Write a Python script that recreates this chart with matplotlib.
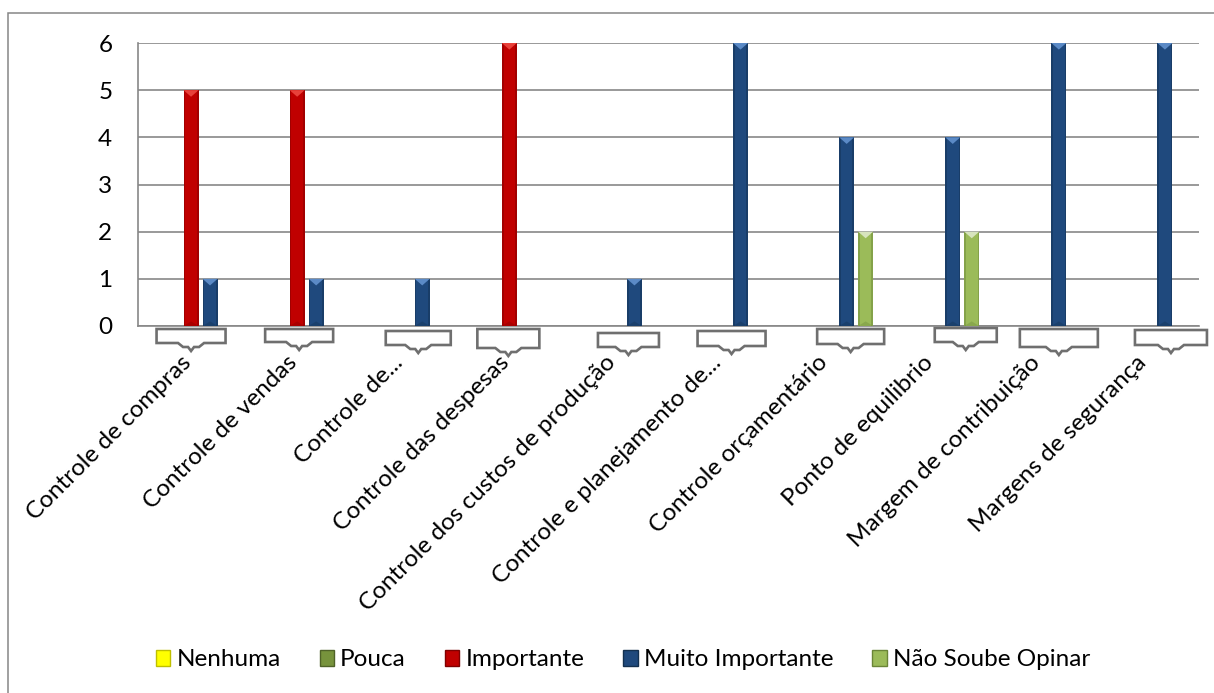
import numpy as np
import matplotlib
matplotlib.use("Agg")
import matplotlib.pyplot as plt
import matplotlib.patches as mpatches
import matplotlib.transforms as mtransforms
from matplotlib.path import Path

plt.rcParams['font.family'] = ['Lato', 'DejaVu Sans']

# Categorias e respostas por grau de importância
categorias = [
    "Controle de compras",
    "Controle de vendas",
    "Controle de...",
    "Controle das despesas",
    "Controle dos custos de produção",
    "Controle e planejamento de...",
    "Controle orçamentário",
    "Ponto de equilibrio",
    "Margem de contribuição",
    "Margens de segurança",
]
series = ["Nenhuma", "Pouca", "Importante", "Muito Importante", "Não Soube Opinar"]
nenhuma = [0, 0, 0, 0, 0, 0, 0, 0, 0, 0]
pouca = [0, 0, 0, 0, 0, 0, 0, 0, 0, 0]
importante = [5, 5, 0, 6, 0, 0, 0, 0, 0, 0]
muito_importante = [1, 1, 1, 0, 1, 6, 4, 4, 6, 6]
nao_soube = [0, 0, 0, 0, 0, 0, 2, 2, 0, 0]
y_ticks = [0, 1, 2, 3, 4, 5, 6]

valores = [nenhuma, pouca, importante, muito_importante, nao_soube]

# cor principal, topo claro, borda escura
cores = [
    ("#FFFF00", "#FFFF99", "#BFBF00"),
    ("#77933C", "#A6C26A", "#4F6228"),
    ("#C00000", "#E8413A", "#7F0000"),
    ("#1F497D", "#5B8AC6", "#13304F"),
    ("#9BBB59", "#D7E4BD", "#6A8537"),
]

# caixas sob cada categoria: (deslocamento x, distância do eixo, largura, altura) em px
caixas = [
    (0, 3, 69, 14), (2, 3, 68, 13), (15, 5, 65, 14), (-1, 3, 62, 19),
    (13, 7, 61, 14), (10, 5, 68, 15), (23, 3, 67, 15), (32, 2, 62, 14),
    (19, 3, 78, 18), (25, 4, 72, 15),
]

W, H, DPI = 1214, 693, 100
fig = plt.figure(figsize=(W / DPI, H / DPI), dpi=DPI)
ax = fig.add_axes([138 / W, 1 - 326 / H, (1199 - 138) / W, (326 - 43) / H])

grid_col = "#878787"
fs = 17.5

x = np.arange(len(categorias))
passo = 0.179
largura = 0.141
topo = 0.14

for i, (vals, (c, clara, escura)) in enumerate(zip(valores, cores)):
    desloc = (i - 2) * passo
    for xi, v in zip(x, vals):
        if v <= 0:
            continue
        xc = xi + desloc
        ax.bar(xc, v, width=largura, color=c, zorder=3, linewidth=0)
        # bordas laterais mais escuras
        for lado in (-1, 1):
            ax.bar(xc + lado * (largura / 2 - 0.008), v, width=0.016,
                   color=escura, alpha=0.45, zorder=4, linewidth=0)
        # chanfro no topo
        ax.add_patch(mpatches.Polygon(
            [(xc - largura / 2, v), (xc + largura / 2, v), (xc, v - topo)],
            closed=True, facecolor=clara, edgecolor="none", zorder=5))
        # sombra na base
        ax.add_patch(mpatches.Polygon(
            [(xc - largura / 2, 0), (xc + largura / 2, 0), (xc, topo * 0.7)],
            closed=True, facecolor=escura, alpha=0.35, edgecolor="none", zorder=5))

ax.set_xlim(-0.5, len(categorias) - 0.5)
ax.set_ylim(0, 6)
ax.set_yticks(y_ticks)
ax.set_yticklabels([str(t) for t in y_ticks], fontsize=fs)
ax.yaxis.grid(True, color=grid_col, linewidth=1.2, zorder=0)
ax.set_axisbelow(True)

for s in ("top", "right"):
    ax.spines[s].set_visible(False)
for s in ("left", "bottom"):
    ax.spines[s].set_color(grid_col)
    ax.spines[s].set_linewidth(1.2)

ax.tick_params(axis="y", length=0, pad=18.5)
ax.tick_params(axis="x", length=0, pad=18.5)
ax.set_xticks(x)
ax.set_xticklabels(categorias, fontsize=fs, rotation=45, ha="right", va="top")
desl = mtransforms.ScaledTranslation(4 / DPI, 0, fig.dpi_scale_trans)
for lab in ax.get_xticklabels():
    lab.set_transform(lab.get_transform() + desl)

# caixas com seta abaixo do eixo
for xi, (dx, dt, w, h) in zip(x, caixas):
    verts = [(-w / 2, 0), (w / 2, 0), (w / 2, -h), (13, -h), (8, -h - 4),
             (3, -h - 4), (0, -h - 8), (-3, -h - 4), (-8, -h - 4), (-13, -h),
             (-w / 2, -h), (-w / 2, 0)]
    verts = [((vx + dx) / DPI, (vy - dt) / DPI) for vx, vy in verts]
    trans = fig.dpi_scale_trans + mtransforms.ScaledTranslation(
        xi, 0, ax.get_xaxis_transform())
    p = mpatches.PathPatch(Path(verts, closed=True), facecolor="white",
                           edgecolor="#6F6F6F", linewidth=1.9,
                           transform=trans, clip_on=False, zorder=6)
    ax.add_patch(p)

handles = [mpatches.Patch(facecolor=c, edgecolor=e, linewidth=1.0)
           for c, _, e in cores]
fig.legend(handles, series, loc="center", bbox_to_anchor=(623 / W, 1 - 660 / H),
           ncol=5, frameon=False, fontsize=fs, handlelength=0.6,
           handleheight=0.6, handletextpad=0.25, columnspacing=1.6)

# moldura externa do gráfico
fig.add_artist(mpatches.Rectangle((7.5 / W, -0.1), 1.2, (1 - 13.5 / H) + 0.1,
                                  transform=fig.transFigure, fill=False,
                                  edgecolor="#868686", linewidth=1.1))

fig.savefig("out.png", dpi=DPI)
